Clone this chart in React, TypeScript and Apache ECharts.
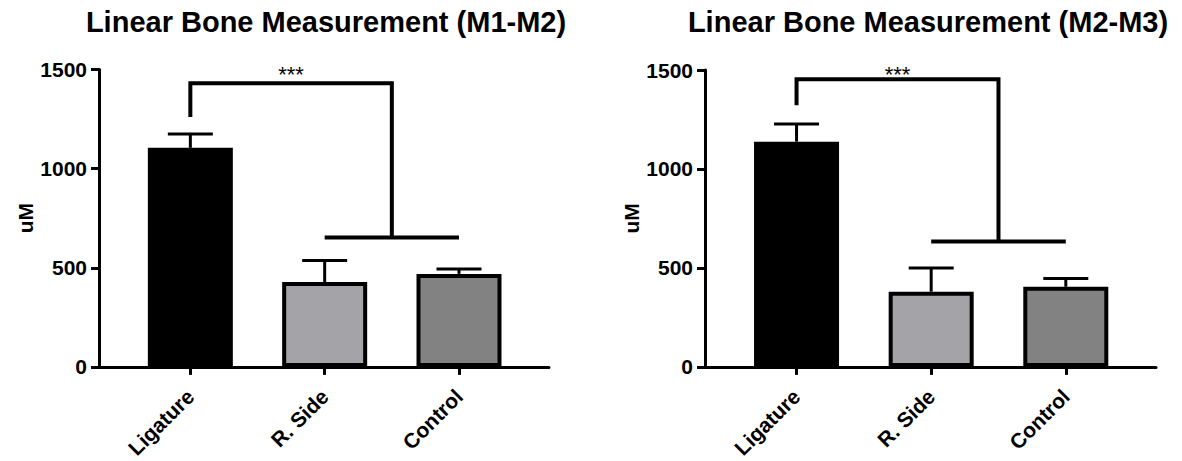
import React, { useEffect, useRef } from 'react';
import * as echarts from 'echarts';

const categories = ['Ligature', 'R. Side', 'Control'];
const titles = ['Linear Bone Measurement (M1-M2)', 'Linear Bone Measurement (M2-M3)'];
const meansM1M2 = [1105, 428, 469];
const semM1M2 = [70, 108, 25];
const meansM2M3 = [1138, 380, 405];
const semM2M3 = [89, 119, 42];
// [left leg start, bracket top, lower bar level]
const bracketM1M2 = [1260, 1431, 653];
const bracketM2M3 = [1322, 1453, 633];
const sigLabel = '***';
const sigLabelY = 1475;
const yMin = 0;
const yMax = 1500;
const yInterval = 500;
const barColors = ['#000000', '#a4a3a8', '#828282'];

const FONT = '"Liberation Sans", Arial, Helvetica, sans-serif';

export default function App() {
  const ref = useRef<HTMLDivElement>(null);
  useEffect(() => {
    if (!ref.current) return;
    const chart = echarts.init(ref.current, undefined, { renderer: 'svg' });
    const panels = [
      { means: meansM1M2, sem: semM1M2, bracket: bracketM1M2 },
      { means: meansM2M3, sem: semM2M3, bracket: bracketM2M3 },
    ];
    const grids = [
      { left: 99, top: 69.5, width: 450, height: 299 },
      { left: 705, top: 70, width: 451, height: 299 },
    ];
    const titleX = [326, 928];
    const series: any[] = [];
    panels.forEach((p, i) => {
      series.push({
        type: 'bar',
        xAxisIndex: i,
        yAxisIndex: i,
        barWidth: 85,
        data: p.means.map((v, j) => ({
          value: [j, v],
          itemStyle: { color: barColors[j], borderColor: '#000', borderWidth: 4 },
        })),
        z: 2,
      });
      series.push({
        type: 'custom',
        xAxisIndex: i,
        yAxisIndex: i,
        data: p.means.map((m, j) => [j, m + p.sem[j]]),
        renderItem: (params: any, api: any) => {
          const j = params.dataIndex;
          const base = api.coord([j, p.means[j]]);
          const top = api.coord([j, p.means[j] + p.sem[j]]);
          const hw = 22.5;
          return {
            type: 'group',
            children: [
              {
                type: 'line',
                shape: { x1: base[0], y1: base[1], x2: top[0], y2: top[1] },
                style: { stroke: '#000', lineWidth: 3 },
              },
              {
                type: 'line',
                shape: { x1: top[0] - hw, y1: top[1], x2: top[0] + hw, y2: top[1] },
                style: { stroke: '#000', lineWidth: 3 },
              },
            ],
          };
        },
        z: 3,
        silent: true,
      });
      const b = p.bracket;
      series.push({
        type: 'custom',
        xAxisIndex: i,
        yAxisIndex: i,
        data: [[0.75, b[1]]],
        renderItem: (params: any, api: any) => {
          const p1 = api.coord([0, b[0]]);
          const p2 = api.coord([0, b[1]]);
          const p3 = api.coord([1.5, b[1]]);
          const p4 = api.coord([1.5, b[2]]);
          const q1 = api.coord([1, b[2]]);
          const q2 = api.coord([2, b[2]]);
          const t = api.coord([0.75, sigLabelY]);
          return {
            type: 'group',
            children: [
              {
                type: 'polyline',
                shape: { points: [p1, p2, p3, p4] },
                style: { stroke: '#000', lineWidth: 4, fill: 'none', lineJoin: 'miter' },
              },
              {
                type: 'line',
                shape: { x1: q1[0], y1: q1[1], x2: q2[0], y2: q2[1] },
                style: { stroke: '#000', lineWidth: 4 },
              },
              {
                type: 'text',
                x: t[0],
                y: t[1],
                style: {
                  text: sigLabel,
                  fill: '#000',
                  font: `22px ${FONT}`,
                  align: 'center',
                  verticalAlign: 'middle',
                },
              },
            ],
          };
        },
        z: 4,
        silent: true,
      });
    });

    const option: any = {
      animation: false,
      backgroundColor: '#ffffff',
      grid: grids,
      graphic: titles.map((t, i) => ({
        type: 'text',
        x: titleX[i],
        y: 22,
        style: {
          text: t,
          fill: '#000',
          font: `bold 29px ${FONT}`,
          align: 'center',
          verticalAlign: 'middle',
        },
      })),
      xAxis: panels.map((_, i) => ({
        type: 'value',
        gridIndex: i,
        min: -0.68,
        max: 2.67,
        axisLine: { show: true, onZero: false, lineStyle: { color: '#000', width: 3 } },
        axisTick: {
          show: true,
          customValues: [0, 1, 2],
          length: 8,
          lineStyle: { color: '#000', width: 3 },
        },
        axisLabel: {
          customValues: [0, 1, 2],
          formatter: (v: number) => categories[Math.round(v)],
          rotate: 45,
          margin: 26,
          fontSize: 21,
          fontWeight: 'bold',
          color: '#000',
          fontFamily: FONT,
        },
        splitLine: { show: false },
      })),
      yAxis: panels.map((_, i) => ({
        type: 'value',
        gridIndex: i,
        min: yMin,
        max: yMax,
        interval: yInterval,
        name: 'uM',
        nameLocation: 'middle',
        nameGap: 63,
        nameRotate: 90,
        nameTextStyle: { fontSize: 21, fontWeight: 'bold', color: '#000', fontFamily: FONT },
        axisLine: { show: true, onZero: false, lineStyle: { color: '#000', width: 3 } },
        axisTick: { show: true, length: 8, lineStyle: { color: '#000', width: 3 } },
        axisLabel: {
          margin: 12,
          fontSize: 21,
          fontWeight: 'bold',
          color: '#000',
          fontFamily: FONT,
          formatter: (v: number) => String(v),
        },
        splitLine: { show: false },
      })),
      series,
    };
    chart.setOption(option);
    return () => chart.dispose();
  }, []);
  return (
    <div
      ref={ref}
      style={{ position: 'fixed', left: 0, top: 0, width: 1182, height: 461, background: '#fff' }}
    />
  );
}
